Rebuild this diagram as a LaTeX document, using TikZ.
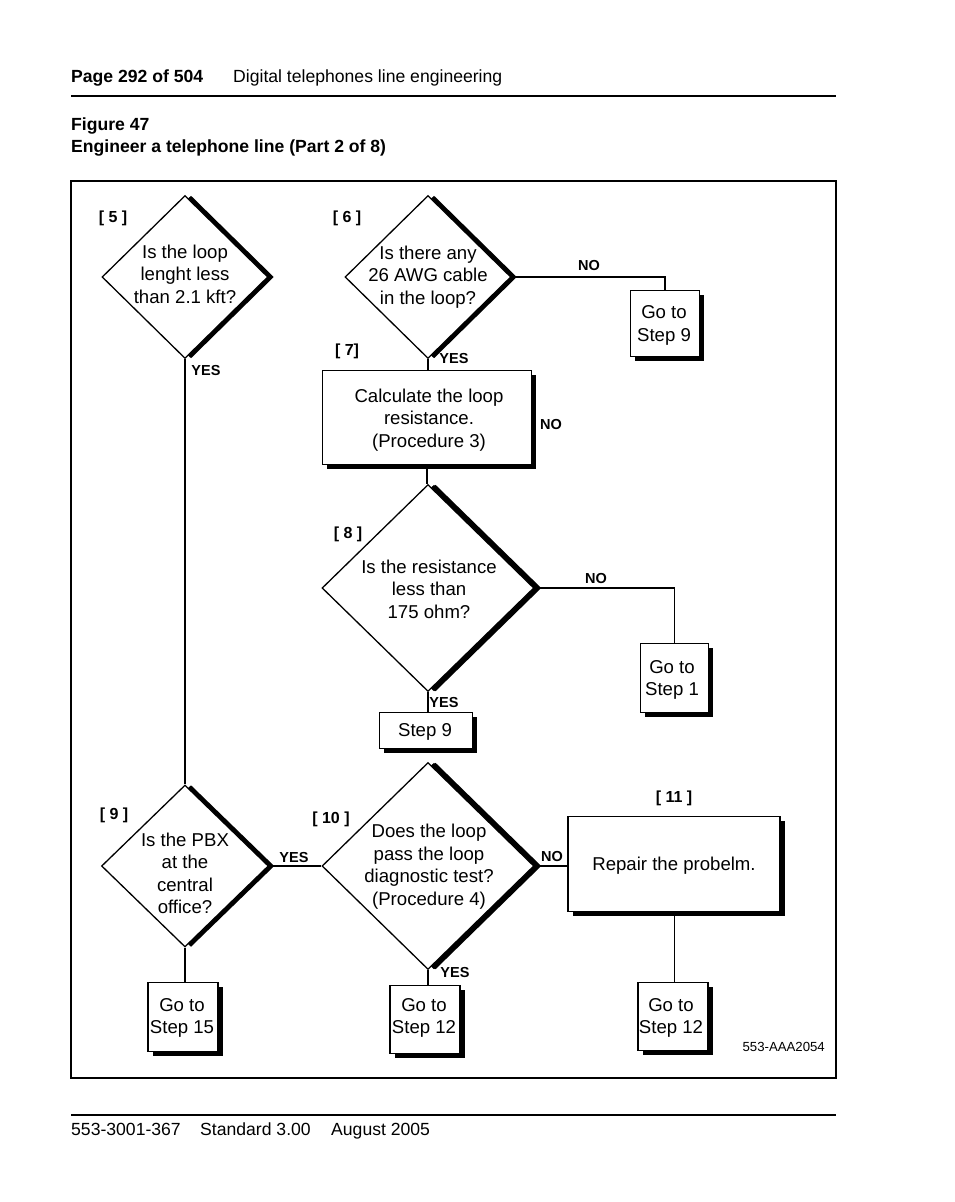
\documentclass[tikz,border=0pt]{standalone}
\usepackage{fontspec}
\setmainfont{Liberation Sans}
\usetikzlibrary{shapes.geometric,shadows}

\newcommand{\qfont}{\fontsize{18.6}{22.5}\selectfont}
\newcommand{\headfont}{\fontsize{17.6}{21}\selectfont}
\newcommand{\numfont}{\bfseries\fontsize{16}{19}\selectfont}
\newcommand{\ansfont}{\bfseries\fontsize{14.5}{17}\selectfont}
\newcommand{\figcodefont}{\fontsize{13.2}{16}\selectfont}

\begin{document}
\begin{tikzpicture}
[x=1pt, y=-1pt,
decision/.style={diamond, draw=black, line width=1.3pt, fill=white, inner sep=0pt,
  drop shadow={shadow xshift=6pt, shadow yshift=0pt, opacity=1, fill=black}},
bigdecision/.style={decision,
  drop shadow={shadow xshift=7.5pt, shadow yshift=0pt, opacity=1, fill=black}},
stepbox/.style={rectangle, draw=black, line width=1.3pt, fill=white, inner sep=0pt,
  drop shadow={shadow xshift=4.5pt, shadow yshift=-4.5pt, opacity=1, fill=black}},
qtext/.style={align=center, font=\qfont},
steptag/.style={font=\numfont},
answer/.style={font=\ansfont},
connect/.style={line width=1.3pt},
thinconnect/.style={line width=0.9pt}]
\useasboundingbox (0,0) rectangle (954,1202);

% page header and footer
\node[anchor=base west, font=\headfont\bfseries, inner sep=0pt] (pagenum) at (71,82) {Page 292 of 504};
\node[anchor=base west, font=\headfont, inner sep=0pt] (chapter) at (233,82) {Digital telephones line engineering};
\draw[line width=2pt] (71,96) -- (836,96);
\node[anchor=base west, font=\headfont\bfseries, inner sep=0pt] (fignum) at (71,130) {Figure 47};
\node[anchor=base west, font=\headfont\bfseries, inner sep=0pt] (figtitle) at (71,152) {Engineer a telephone line (Part 2 of 8)};
\draw[line width=2pt] (71,1115) -- (836,1115);
\node[anchor=base west, font=\headfont, inner sep=0pt] (docnum) at (71,1135) {553-3001-367};
\node[anchor=base west, font=\headfont, inner sep=0pt] (docstd) at (200,1135) {Standard 3.00};
\node[anchor=base west, font=\headfont, inner sep=0pt] (docdate) at (331,1135) {August 2005};

% frame
\draw[line width=1.8pt] (71,181) rectangle (836,1078);

% steps
\node[decision, minimum width=166, minimum height=163] (d5) at (185,277) {};
\node[qtext] (q5) at (185,274) {Is the loop\\lenght less\\than 2.1 kft?};
\node[decision, minimum width=166, minimum height=163] (d6) at (428,277) {};
\node[qtext] (q6) at (428,277) {Is there any\\26 AWG cable\\in the loop?};
\node[stepbox, minimum width=69, minimum height=66] (go9) at (665,323.5) {};
\node[qtext] (t9) at (664,325.5) {Go to\\Step 9};
\node[stepbox, minimum width=209, minimum height=94] (calc) at (427,417.5) {};
\node[qtext] (tcalc) at (429,420) {Calculate the loop\\resistance.\\(Procedure 3)};
\node[bigdecision, minimum width=212, minimum height=207] (d8) at (428,588) {};
\node[qtext] (q8) at (429,589) {Is the resistance\\less than\\175 ohm?};
\node[stepbox, minimum width=68, minimum height=69] (go1) at (674.5,678) {};
\node[qtext] (t1) at (672,680) {Go to\\Step 1};
\node[stepbox, minimum width=93, minimum height=36] (step9) at (426,730.5) {};
\node[qtext] (ts9) at (425,732) {Step 9};
\node[decision, minimum width=167, minimum height=162] (d9) at (185,866) {};
\node[qtext] (q9) at (185,873.5) {Is the PBX\\at the\\central\\office?};
\node[bigdecision, minimum width=212, minimum height=207] (d10) at (428,866) {};
\node[qtext] (q10) at (429,866.5) {Does the loop\\pass the loop\\diagnostic test?\\(Procedure 4)};
\node[stepbox, minimum width=212, minimum height=95] (repair) at (674,864) {};
\node[qtext] (trepair) at (674,866) {Repair the probelm.};
\node[stepbox, minimum width=70, minimum height=69] (go15) at (183,1017) {};
\node[qtext] (t15) at (182,1018) {Go to\\Step 15};
\node[stepbox, minimum width=70, minimum height=68] (go12a) at (425,1019.5) {};
\node[qtext] (t12a) at (424,1018) {Go to\\Step 12};
\node[stepbox, minimum width=70, minimum height=68] (go12b) at (673,1016.5) {};
\node[qtext] (t12b) at (671,1018) {Go to\\Step 12};

% step numbers
\node[steptag] (n5) at (113,218) {[ 5 ]};
\node[steptag] (n6) at (347,218) {[ 6 ]};
\node[steptag] (n7) at (347,351) {[ 7]};
\node[steptag] (n8) at (348,534) {[ 8 ]};
\node[steptag] (n9) at (114,815) {[ 9 ]};
\node[steptag] (n10) at (331,819) {[ 10 ]};
\node[steptag] (n11) at (674,798) {[ 11 ]};

% answers
\node[answer] (a5) at (206,371) {YES};
\node[answer] (a6no) at (589,266) {NO};
\node[answer] (a6yes) at (454,359) {YES};
\node[answer] (a7no) at (551,425) {NO};
\node[answer] (a8no) at (596,579) {NO};
\node[answer] (a8yes) at (444,702) {YES};
\node[answer] (a9yes) at (294,857) {YES};
\node[answer] (a10no) at (552,856) {NO};
\node[answer] (a10yes) at (455,972) {YES};

\node[anchor=east, font=\figcodefont, inner sep=0pt] (figcode) at (825,1047) {553-AAA2054};

% connectors
\draw[connect] (d5.south) -- (d9.north);
\draw[connect] (d6.east) -| (go9.north);
\draw[connect] (d6.south) -- (d6.south |- calc.north);
\draw[connect] (calc.south) -- (calc.south |- d8.north);
\draw[connect] (d8.east) -| (go1.north);
\draw[connect] (d8.south) -- (d8.south |- step9.north);
\draw[connect] (d9.east) -- (d10.west);
\draw[connect] (d9.south) -- (d9.south |- go15.north);
\draw[connect] (d10.east) -- (d10.east -| repair.west);
\draw[connect] (d10.south) -- (d10.south |- go12a.north);
\draw[thinconnect] (repair.south) -- (repair.south |- go12b.north);

\end{tikzpicture}
\end{document}
